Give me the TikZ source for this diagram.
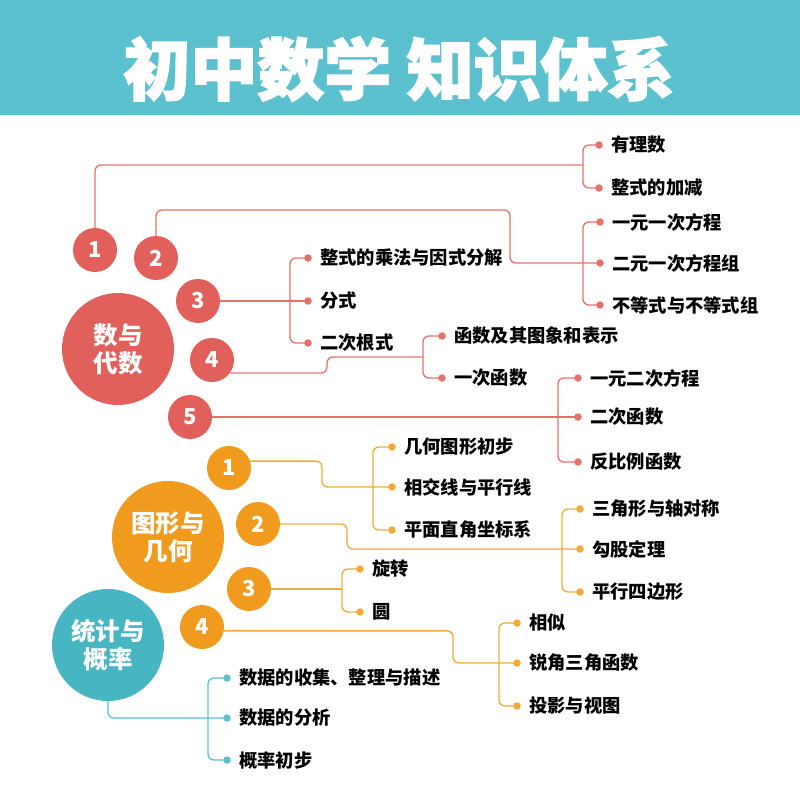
\documentclass[tikz,border=0pt]{standalone}
\usepackage{fontspec}
\setmainfont{Noto Sans CJK SC}
\newfontfamily\titlefont{Noto Sans CJK SC}[FakeBold=2.5]
\usepackage{xcolor}
\usetikzlibrary{positioning,calc}
\definecolor{algRed}{HTML}{E2605C}
\definecolor{algLine}{HTML}{E6706C}
\definecolor{geoOrange}{HTML}{F09A1E}
\definecolor{geoLine}{HTML}{F2AA3A}
\definecolor{statTeal}{HTML}{48B6C2}
\definecolor{statLine}{HTML}{5CBFCA}
\definecolor{headBand}{HTML}{5CC1CE}

\begin{document}
\begin{tikzpicture}[
  x=1pt,
  y=-1pt,
  hub/.style={circle, minimum size=112pt, inner sep=0pt, align=center, text=white,
    font=\bfseries\fontsize{24.5}{28}\selectfont},
  num/.style={circle, minimum size=44pt, inner sep=0pt, text=white,
    font=\bfseries\fontsize{22}{22}\selectfont},
  item/.style={inner sep=0pt, font=\bfseries\fontsize{18.3}{19}\selectfont},
  dot/.style={circle, minimum size=7.5pt, inner sep=0pt},
  redline/.style={line width=1.3pt, draw=algLine, rounded corners=6pt},
  orangeline/.style={line width=1.3pt, draw=geoLine, rounded corners=6pt},
  tealline/.style={line width=1.3pt, draw=statLine, rounded corners=6pt}
]
\useasboundingbox (0,0) rectangle (800,800);
\fill[headBand] (0,0) rectangle (800,115);
\node[text=white, font=\titlefont\bfseries\fontsize{67}{67}\selectfont, inner sep=0pt] (title) at (399,69) {初中数学 知识体系};

% 数与代数
\node[hub, fill=algRed] (alg) at (118,349) {数与\\代数};
\node[num, fill=algRed] (r1) at (95,250) {1};
\node[num, fill=algRed] (r2) at (156,258) {2};
\node[num, fill=algRed] (r3) at (198,301) {3};
\node[num, fill=algRed] (r4) at (212,360) {4};
\node[num, fill=algRed] (r5) at (190,417) {5};

\node[dot, fill=algLine] (d11) at (599,145) {};
\node[dot, fill=algLine] (d12) at (599,188) {};
\node[item, right=8pt of d11] (t11) {有理数};
\node[item, right=8pt of d12] (t12) {整式的加减};

\node[dot, fill=algLine] (d21) at (600,222) {};
\node[dot, fill=algLine] (d22) at (600,263) {};
\node[dot, fill=algLine] (d23) at (600,305) {};
\node[item, right=8pt of d21] (t21) {一元一次方程};
\node[item, right=8pt of d22] (t22) {二元一次方程组};
\node[item, right=8pt of d23] (t23) {不等式与不等式组};

\node[dot, fill=algLine] (d31) at (308,258) {};
\node[dot, fill=algLine] (d32) at (308,301) {};
\node[dot, fill=algLine] (d33) at (308,343) {};
\node[item, right=8pt of d31] (t31) {整式的乘法与因式分解};
\node[item, right=8pt of d32] (t32) {分式};
\node[item, right=8pt of d33] (t33) {二次根式};

\node[dot, fill=algLine] (d41) at (442,336) {};
\node[dot, fill=algLine] (d42) at (442,378) {};
\node[item, right=8pt of d41] (t41) {函数及其图象和表示};
\node[item, right=8pt of d42] (t42) {一次函数};

\node[dot, fill=algLine] (d51) at (578,378) {};
\node[dot, fill=algLine] (d52) at (578,417) {};
\node[dot, fill=algLine] (d53) at (578,462) {};
\node[item, right=8pt of d51] (t51) {一元二次方程};
\node[item, right=8pt of d52] (t52) {二次函数};
\node[item, right=8pt of d53] (t53) {反比例函数};

\coordinate (k1) at (583,165);
\coordinate (j2) at (510,210);
\coordinate (k2) at (583,263);
\coordinate (k3) at (290,301);
\coordinate (j4) at (327,357);
\coordinate (k4) at (423,357);
\coordinate (k5) at (558,417);

\draw[redline] (r1.north) |- (k1);
\draw[redline] (d11.center) -| (k1) |- (d12.center);
\draw[redline] (r2.north) |- (j2) |- (d22.center);
\draw[redline] (d21.center) -| (k2) |- (d23.center);
\draw[redline] (r3.east) -- (d32.center);
\draw[redline] (d31.center) -| (k3) |- (d33.center);
\draw[redline] (r4.-36) -| (j4) -- (k4);
\draw[redline] (d41.center) -| (k4) |- (d42.center);
\draw[redline] (r5.east) -- (d52.center);
\draw[redline] (d51.center) -| (k5) |- (d53.center);

% 图形与几何
\node[hub, fill=geoOrange] (geo) at (168,537) {图形与\\几何};
\node[num, fill=geoOrange] (o1) at (229,468) {1};
\node[num, fill=geoOrange] (o2) at (258,524) {2};
\node[num, fill=geoOrange] (o3) at (249,589) {3};
\node[num, fill=geoOrange] (o4) at (202,627) {4};

\node[dot, fill=geoLine] (e11) at (392,447) {};
\node[dot, fill=geoLine] (e12) at (392,487) {};
\node[dot, fill=geoLine] (e13) at (392,530) {};
\node[item, right=8pt of e11] (s11) {几何图形初步};
\node[item, right=8pt of e12] (s12) {相交线与平行线};
\node[item, right=8pt of e13] (s13) {平面直角坐标系};

\node[dot, fill=geoLine] (e21) at (580,509) {};
\node[dot, fill=geoLine] (e22) at (580,549) {};
\node[dot, fill=geoLine] (e23) at (580,592) {};
\node[item, right=8pt of e21] (s21) {三角形与轴对称};
\node[item, right=8pt of e22] (s22) {勾股定理};
\node[item, right=8pt of e23] (s23) {平行四边形};

\node[dot, fill=geoLine] (e31) at (360,569) {};
\node[dot, fill=geoLine] (e32) at (360,612) {};
\node[item, right=8pt of e31] (s31) {旋转};
\node[item, right=8pt of e32] (s32) {圆};

\node[dot, fill=geoLine] (e41) at (517,623) {};
\node[dot, fill=geoLine] (e42) at (517,663) {};
\node[dot, fill=geoLine] (e43) at (517,706) {};
\node[item, right=8pt of e41] (s41) {相似};
\node[item, right=8pt of e42] (s42) {锐角三角函数};
\node[item, right=8pt of e43] (s43) {投影与视图};

\coordinate (g1) at (322,487);
\coordinate (h1) at (373,487);
\coordinate (g2) at (347,549);
\coordinate (h2) at (562,549);
\coordinate (h3) at (342,589);
\coordinate (g4) at (453,663);
\coordinate (h4) at (499,663);

\draw[orangeline] (o1.18) -| (g1) -- (e12.center);
\draw[orangeline] (e11.center) -| (h1) |- (e13.center);
\draw[orangeline] (o2.east) -| (g2) -- (e22.center);
\draw[orangeline] (e21.center) -| (h2) |- (e23.center);
\draw[orangeline] (o3.east) -- (h3);
\draw[orangeline] (e31.center) -| (h3) |- (e32.center);
\draw[orangeline] (o4.-10) -| (g4) -- (e42.center);
\draw[orangeline] (e41.center) -| (h4) |- (e43.center);

% 统计与概率
\node[hub, fill=statTeal] (stat) at (108,645) {统计与\\概率};

\node[dot, fill=statLine] (f1) at (227,678) {};
\node[dot, fill=statLine] (f2) at (227,718) {};
\node[dot, fill=statLine] (f3) at (227,760) {};
\node[item, right=8pt of f1] (u1) {数据的收集、整理与描述};
\node[item, right=8pt of f2] (u2) {数据的分析};
\node[item, right=8pt of f3] (u3) {概率初步};

\coordinate (m1) at (208,718);

\draw[tealline] (stat.south) |- (f2.center);
\draw[tealline] (f1.center) -| (m1) |- (f3.center);
\end{tikzpicture}
\end{document}
